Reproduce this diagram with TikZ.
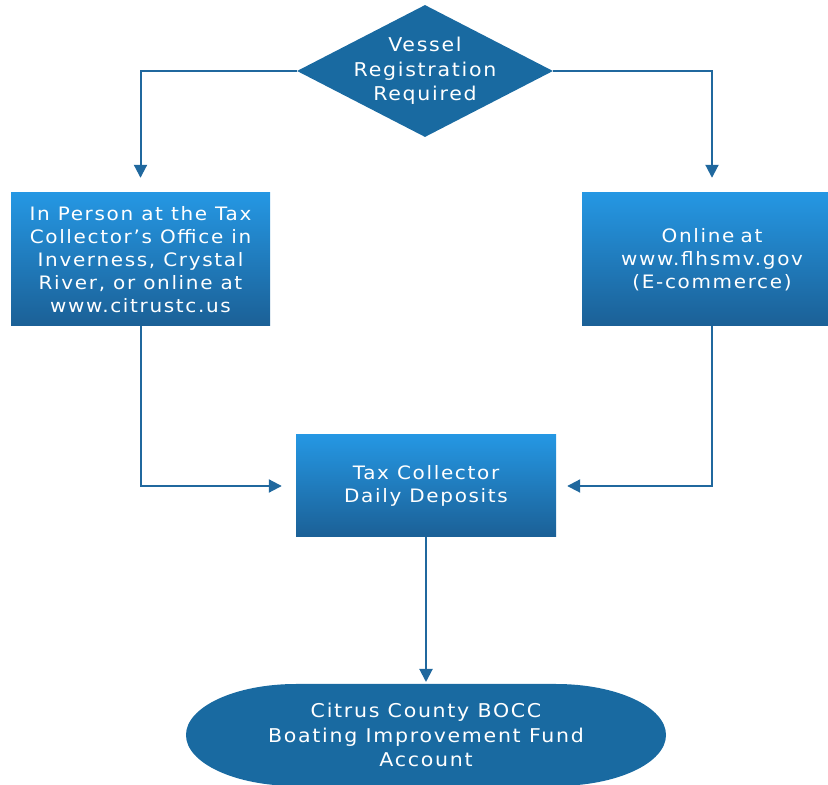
\documentclass[tikz,border=0pt]{standalone}
\usepackage{fontspec}
\setmainfont{DejaVu Sans}[LetterSpace=9,FakeStretch=1.08]
\usetikzlibrary{shapes.geometric,arrows.meta}
\definecolor{darkblue}{RGB}{25,106,161}
\definecolor{linecol}{RGB}{32,104,158}
\definecolor{gradtop}{RGB}{37,151,227}
\definecolor{gradbot}{RGB}{27,96,150}
\tikzset{
  gbox/.style={rectangle, top color=gradtop, bottom color=gradbot, draw=none,
    text=white, align=center, font=\fontsize{18.5}{23}\selectfont, inner sep=0pt},
  conn/.style={draw=linecol, line width=2pt, -{Triangle[length=13pt,width=13pt]}},
  lbl/.style={text=white, align=center, font=\fontsize{19}{24.5}\selectfont}
}
\begin{document}
\begin{tikzpicture}[x=1pt,y=1pt]
\useasboundingbox (0,0) rectangle (828,785);
\clip (0,0) rectangle (828,785);
% decision diamond
\node[diamond, fill=darkblue, draw=none, minimum width=256pt, minimum height=132pt, inner sep=0pt,
  label={[lbl]center:Vessel\\Registration\\Required}] (dec) at (425,714) {};
% boxes
\node[gbox, minimum width=259pt, minimum height=133pt] (left) at (140.5,525.5)
  {In Person at the Tax\\Collector’s Office in\\Inverness, Crystal\\River, or online at\\www.citrustc.us};
\node[gbox, minimum width=260pt, minimum height=133pt, text width=260pt] (right) at (712,525.5)
  {Online at\\www.flhsmv.gov\\(E-commerce)};
\node[gbox, minimum width=260pt, minimum height=102pt] (mid) at (426,299)
  {Tax Collector\\Daily Deposits};
% terminal (stadium with elliptic ends)
\coordinate (acct) at (426,101);
\fill[darkblue] (296,101) -- (556,101) arc[start angle=90,end angle=-90,x radius=110pt,y radius=51pt]
  -- (296,-1) arc[start angle=270,end angle=90,x radius=110pt,y radius=51pt] -- cycle;
\node[lbl] (acctlbl) at (426,50) {Citrus County BOCC\\Boating Improvement Fund\\Account};
% connectors
\draw[conn, shorten >=15pt] (dec.west) -| (left.north);
\draw[conn, shorten >=15pt] (dec.east) -| (right.north);
\draw[conn, shorten >=14pt] (left.south) |- (mid.west);
\draw[conn, shorten >=11pt] (right.south) |- (mid.east);
\draw[conn, shorten >=2pt] (mid.south) -- (acct);
\end{tikzpicture}
\end{document}
